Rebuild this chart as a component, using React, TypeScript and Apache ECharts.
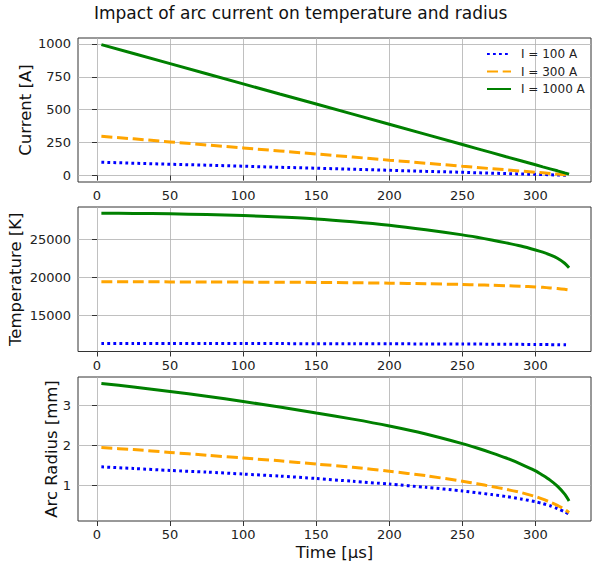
import React, { useEffect, useRef } from "react";
import * as echarts from "echarts";

const time = [3, 25, 50, 75, 100, 125, 150, 175, 200, 225, 250, 260, 270, 280, 290, 300, 305, 310, 315, 320, 323];

const current100 = [100, 93, 85, 78, 70, 62, 55, 47, 39, 31, 24, 20, 17, 14, 11, 8, 7, 5, 3, 2, 1];
const current300 = [298, 278, 255, 232, 209, 186, 163, 140, 116, 93, 70, 61, 51, 43, 33, 24, 20, 15, 10, 6, 3];
const current1000 = [995, 927, 850, 773, 696, 619, 543, 466, 389, 312, 235, 204, 173, 142, 112, 81, 65, 50, 35, 19, 10];

const temp100 = [11320, 11318, 11315, 11310, 11303, 11296, 11288, 11280, 11270, 11256, 11240, 11232, 11222, 11211, 11198, 11182, 11173, 11164, 11152, 11140, 11130];
const temp300 = [19420, 19410, 19400, 19390, 19370, 19350, 19330, 19290, 19230, 19160, 19060, 19010, 18960, 18900, 18830, 18740, 18680, 18610, 18530, 18420, 18330];
const temp1000 = [28420, 28390, 28330, 28230, 28100, 27910, 27670, 27300, 26840, 26250, 25570, 25250, 24900, 24520, 24100, 23590, 23300, 22950, 22500, 21850, 21260];

const radius100 = [1.46, 1.42, 1.37, 1.33, 1.28, 1.23, 1.17, 1.1, 1.03, 0.95, 0.86, 0.815, 0.77, 0.72, 0.66, 0.59, 0.545, 0.49, 0.42, 0.34, 0.28];
const radius300 = [1.94, 1.89, 1.82, 1.75, 1.68, 1.61, 1.53, 1.45, 1.35, 1.24, 1.1, 1.04, 0.97, 0.9, 0.82, 0.72, 0.655, 0.58, 0.5, 0.4, 0.32];
const radius1000 = [3.54, 3.45, 3.34, 3.22, 3.09, 2.95, 2.8, 2.65, 2.48, 2.28, 2.04, 1.93, 1.81, 1.68, 1.53, 1.36, 1.25, 1.13, 0.98, 0.78, 0.61];

const timeTicks = [0, 50, 100, 150, 200, 250, 300];
const currentTicks = [0, 250, 500, 750, 1000];
const tempTicks = [15000, 20000, 25000];
const radiusTicks = [1, 2, 3];

const seriesNames = ["I = 100 A", "I = 300 A", "I = 1000 A"];

const FONT = "DejaVu Sans";

export default function App() {
  const ref = useRef<HTMLDivElement>(null);

  useEffect(() => {
    if (!ref.current) return;
    const chart = echarts.init(ref.current, undefined, { renderer: "svg" });

    const grids = [
      { left: 78, right: 1, top: 38, height: 144 },
      { left: 78, right: 1, top: 207, height: 144.5 },
      { left: 78, right: 1, top: 377, height: 144 },
    ].map((g) => ({
      ...g,
      show: true,
      borderColor: "#333",
      borderWidth: 1,
      backgroundColor: "transparent",
      containLabel: false,
      outerBoundsMode: "none",
    }));

    const fmt = (v: number) => String(v);

    const xAxisBase = (gridIndex: number) => ({
      type: "value" as const,
      gridIndex,
      min: -13,
      max: 338,
      axisLine: { show: false },
      axisTick: { show: true, length: 5, lineStyle: { color: "#333" }, customValues: timeTicks },
      axisLabel: { customValues: timeTicks, formatter: fmt, color: "#222", fontSize: 13, fontFamily: FONT, margin: 7 },
      splitLine: { show: true, lineStyle: { color: "#b0b0b0", width: 0.8 } },
      ...(gridIndex === 2
        ? {
            name: "Time [μs]",
            nameLocation: "middle" as const,
            nameGap: 23,
            nameTextStyle: { fontSize: 16.5, fontFamily: FONT, color: "#111" },
          }
        : {}),
    });

    const yAxisBase = (gridIndex: number, name: string, min: number, max: number, ticks: number[], nameGap: number) => ({
      type: "value" as const,
      gridIndex,
      min,
      max,
      name,
      nameLocation: "middle" as const,
      nameGap,
      nameMoveOverlap: false,
      nameRotate: 90,
      nameTextStyle: { fontSize: 16.5, fontFamily: FONT, color: "#111" },
      axisLine: { show: false },
      axisTick: { show: true, length: 5, lineStyle: { color: "#333" }, customValues: ticks },
      axisLabel: { customValues: ticks, formatter: fmt, color: "#222", fontSize: 13, fontFamily: FONT, margin: 7 },
      splitLine: { show: true, lineStyle: { color: "#b0b0b0", width: 0.8 } },
    });

    const pair = (vals: number[]) => time.map((t, i) => [t, vals[i]]);

    const styles = [
      { color: "#0000ff", width: 3, type: [2.8, 3.2] as number[] },
      { color: "#ffa500", width: 3, type: [11, 4.7] as number[] },
      { color: "#008000", width: 3, type: "solid" as any },
    ];

    const groups = [
      [current100, current300, current1000],
      [temp100, temp300, temp1000],
      [radius100, radius300, radius1000],
    ];

    const series: any[] = [];
    groups.forEach((g, gi) => {
      g.forEach((vals, si) => {
        series.push({
          type: "line",
          name: seriesNames[si],
          xAxisIndex: gi,
          yAxisIndex: gi,
          data: pair(vals),
          showSymbol: false,
          symbol: "none",
          smooth: gi === 0 ? false : 0.25,
          color: styles[si].color,
          itemStyle: { color: styles[si].color, opacity: 0 },
          lineStyle: { color: styles[si].color, width: styles[si].width, type: styles[si].type, cap: "butt", opacity: 1 },
        });
      });
    });

    chart.setOption({
      animation: false,
      backgroundColor: "#ffffff",
      textStyle: { fontFamily: FONT },
      title: {
        text: "Impact of arc current on temperature and radius",
        left: 89,
        top: -1,
        textStyle: { fontSize: 17, fontWeight: "normal", fontFamily: FONT, color: "#111" },
      },
      legend: {
        orient: "vertical",
        left: 481,
        top: 43,
        itemWidth: 24,
        itemHeight: 12,
        itemGap: 5.5,
        data: seriesNames,
        itemStyle: { opacity: 0 },
        textStyle: { fontSize: 12, fontFamily: FONT, color: "#222", padding: [0, 0, 0, 5] },
      },
      grid: grids,
      xAxis: [xAxisBase(0), xAxisBase(1), xAxisBase(2)],
      yAxis: [
        yAxisBase(0, "Current [A]", -50, 1045, currentTicks, 44),
        yAxisBase(1, "Temperature [K]", 10260, 29230, tempTicks, 54),
        yAxisBase(2, "Arc Radius [mm]", 0.11, 3.7, radiusTicks, 18),
      ],
      series,
    });

    return () => chart.dispose();
  }, []);

  return <div ref={ref} style={{ position: "absolute", left: 0, top: 0, width: 592, height: 567 }} />;
}
